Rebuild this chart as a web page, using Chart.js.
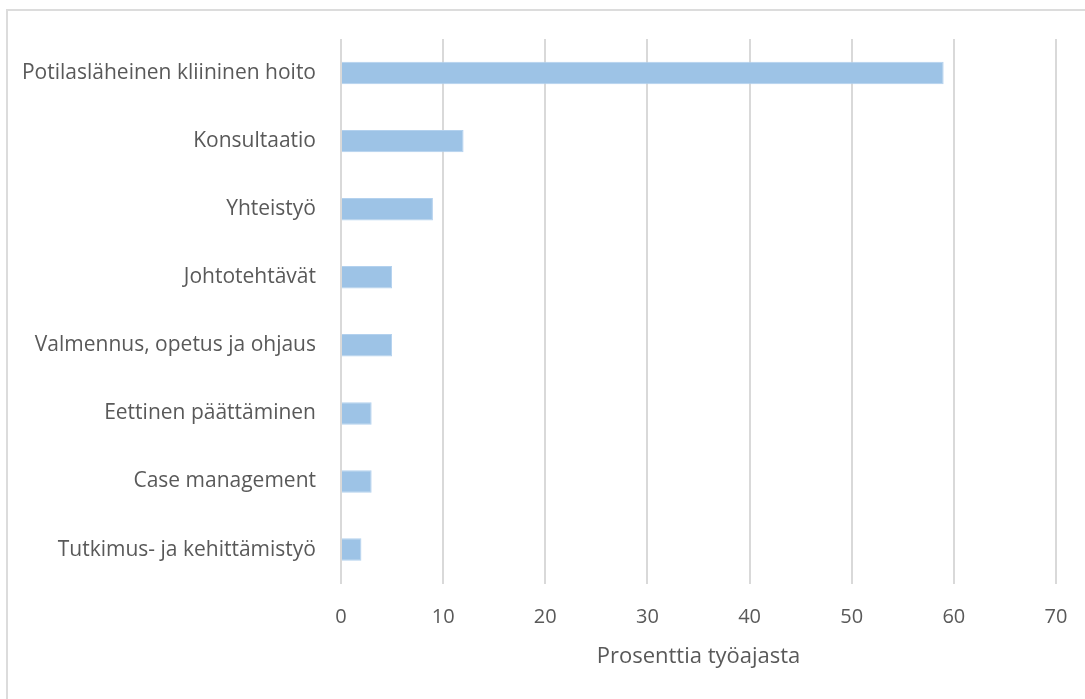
<!DOCTYPE html>
<html>
<head>
<meta charset="utf-8">
<script src="https://cdn.jsdelivr.net/npm/chart.js@4"></script>
<style>
    html, body { margin: 0; padding: 0; background: #fff; overflow: hidden; }
    #frame {
        position: absolute; left: 6px; top: 9px;
        width: 1100px; height: 720px;
        border: 2px solid #dcdcdc;
        box-sizing: border-box;
    }
    #chartContainer { position: absolute; left: 0; top: 0; width: 1085px; height: 699px; }
</style>
</head>
<body>
<div id="frame"></div>
<div id="chartContainer"><canvas id="myChart"></canvas></div>
<script>
        // Osuus työajasta tehtävittäin (%)
        var tehtavat = [
            'Potilasläheinen kliininen hoito',
            'Konsultaatio',
            'Yhteistyö',
            'Johtotehtävät',
            'Valmennus, opetus ja ohjaus',
            'Eettinen päättäminen',
            'Case management',
            'Tutkimus- ja kehittämistyö'
        ];
        var osuudet = [59, 12, 9, 5, 5, 3, 3, 2];
        var xTicks = [0, 10, 20, 30, 40, 50, 60, 70];

        var textColor = '#595959';
        var fontFamily = "'Open Sans', sans-serif";

        const ctx = document.getElementById('myChart');

        new Chart(ctx, {
            type: 'bar',
            data: {
                labels: tehtavat,
                datasets: [{
                    label: 'Prosenttia työajasta',
                    data: osuudet,
                    backgroundColor: '#9dc3e6',
                    borderColor: '#b3d1ee',
                    borderWidth: 1,
                    barPercentage: 0.33,
                    categoryPercentage: 1
                }]
            },
            options: {
                indexAxis: 'y',
                responsive: true,
                maintainAspectRatio: false,
                animation: false,
                layout: {
                    padding: { left: 0, right: 29, top: 39, bottom: 25 }
                },
                plugins: {
                    legend: { display: false },
                    tooltip: { enabled: false }
                },
                scales: {
                    x: {
                        min: xTicks[0],
                        max: xTicks[xTicks.length - 1],
                        afterBuildTicks: function (scale) {
                            scale.ticks = xTicks.map(function (v) { return { value: v }; });
                        },
                        grid: {
                            color: '#d9d9d9',
                            lineWidth: 2,
                            drawTicks: true,
                            tickLength: 8,
                            tickWidth: 0,
                            tickColor: 'rgba(0,0,0,0)'
                        },
                        border: { display: false },
                        ticks: {
                            color: textColor,
                            padding: 14,
                            font: { family: fontFamily, size: 20 }
                        },
                        title: {
                            display: true,
                            text: 'Prosenttia työajasta',
                            color: textColor,
                            padding: { top: 0, bottom: 4 },
                            font: { family: fontFamily, size: 22 }
                        }
                    },
                    y: {
                        afterFit: function (scale) {
                            scale.width = 341;
                        },
                        grid: { display: false, drawTicks: false },
                        border: { display: false },
                        ticks: {
                            color: textColor,
                            padding: 25,
                            font: { family: fontFamily, size: 21 }
                        }
                    }
                }
            }
        });
</script>
</body>
</html>
